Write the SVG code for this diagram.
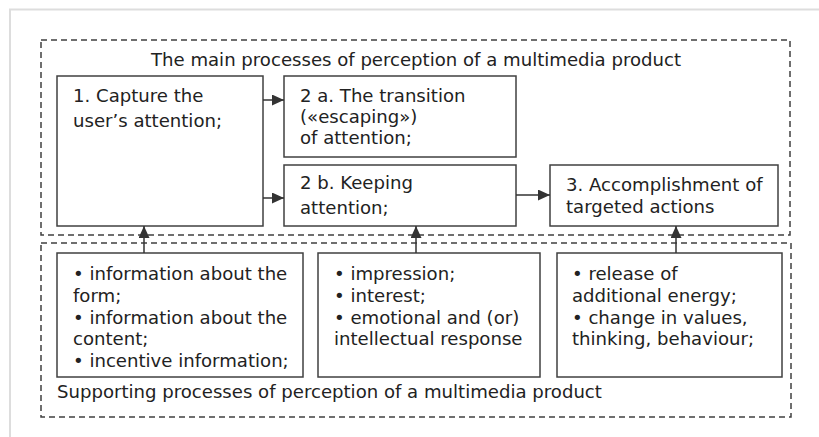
<svg xmlns="http://www.w3.org/2000/svg" width="819" height="437" viewBox="0 0 819 437">
<defs>
<marker id="ah" viewBox="0 0 12 11" refX="12" refY="5.5" markerWidth="12" markerHeight="11" markerUnits="userSpaceOnUse" orient="auto"><path d="M0,0 L12,5.5 L0,11 z" fill="#333"/></marker>
<style>
.box{fill:#fff;stroke:#404040;stroke-width:1.5}
.dash{fill:none;stroke:#404040;stroke-width:1.5;stroke-dasharray:6 4}
.t{font-family:"DejaVu Sans","Verdana",sans-serif;font-size:18.1px;fill:#222}
.c{stroke:#333;stroke-width:1.5;fill:none;marker-end:url(#ah)}
</style>
</defs>
<rect width="819" height="437" fill="#fff"/>
<path d="M10,437 V9.5 H819" fill="none" stroke="#ddd" stroke-width="2"/>
<g id="main-group">
<rect class="dash" x="41" y="40" width="749" height="195"/>
<text class="t" x="416" y="66" text-anchor="middle">The main processes of perception of a multimedia product</text>
</g>
<g id="support-group">
<rect class="dash" x="41" y="243" width="750" height="174"/>
<text class="t" x="57" y="398">Supporting processes of perception of a multimedia product</text>
</g>
<g id="n1">
<rect class="box" x="57" y="76" width="206" height="150"/>
<text class="t" x="73" y="102">1. Capture the</text>
<text class="t" x="73" y="126.5">user’s attention;</text>
</g>
<g id="n2a">
<rect class="box" x="284" y="76" width="232" height="81"/>
<text class="t" x="300" y="102">2 a. The transition</text>
<text class="t" x="300" y="123">(«escaping»)</text>
<text class="t" x="300" y="144">of attention;</text>
</g>
<g id="n2b">
<rect class="box" x="284" y="165" width="232" height="61"/>
<text class="t" x="300" y="189">2 b. Keeping</text>
<text class="t" x="300" y="214">attention;</text>
</g>
<g id="n3">
<rect class="box" x="550" y="165" width="228" height="61"/>
<text class="t" x="566" y="190.5">3. Accomplishment of</text>
<text class="t" x="566" y="212.5">targeted actions</text>
</g>
<g id="sA">
<rect class="box" x="57" y="253" width="246" height="124"/>
<text class="t" x="73" y="280">• information about the</text>
<text class="t" x="73" y="301.5">form;</text>
<text class="t" x="73" y="323.5">• information about the</text>
<text class="t" x="73" y="345">content;</text>
<text class="t" x="73" y="367">• incentive information;</text>
</g>
<g id="sB">
<rect class="box" x="318" y="253" width="222" height="124"/>
<text class="t" x="334" y="280">• impression;</text>
<text class="t" x="334" y="301.5">• interest;</text>
<text class="t" x="334" y="323.5">• emotional and (or)</text>
<text class="t" x="334" y="345">intellectual response</text>
</g>
<g id="sC">
<rect class="box" x="557" y="253" width="225" height="124"/>
<text class="t" x="572" y="280">• release of</text>
<text class="t" x="572" y="301.5">additional energy;</text>
<text class="t" x="572" y="323.5">• change in values,</text>
<text class="t" x="572" y="345">thinking, behaviour;</text>
</g>
<g id="connectors">
<line class="c" x1="263" y1="100" x2="284" y2="100"/>
<line class="c" x1="263" y1="198" x2="284" y2="198"/>
<line class="c" x1="516" y1="195" x2="550" y2="195"/>
<line class="c" x1="144" y1="253" x2="144" y2="226"/>
<line class="c" x1="416" y1="253" x2="416" y2="226"/>
<line class="c" x1="676" y1="253" x2="676" y2="226"/>
</g>
</svg>
